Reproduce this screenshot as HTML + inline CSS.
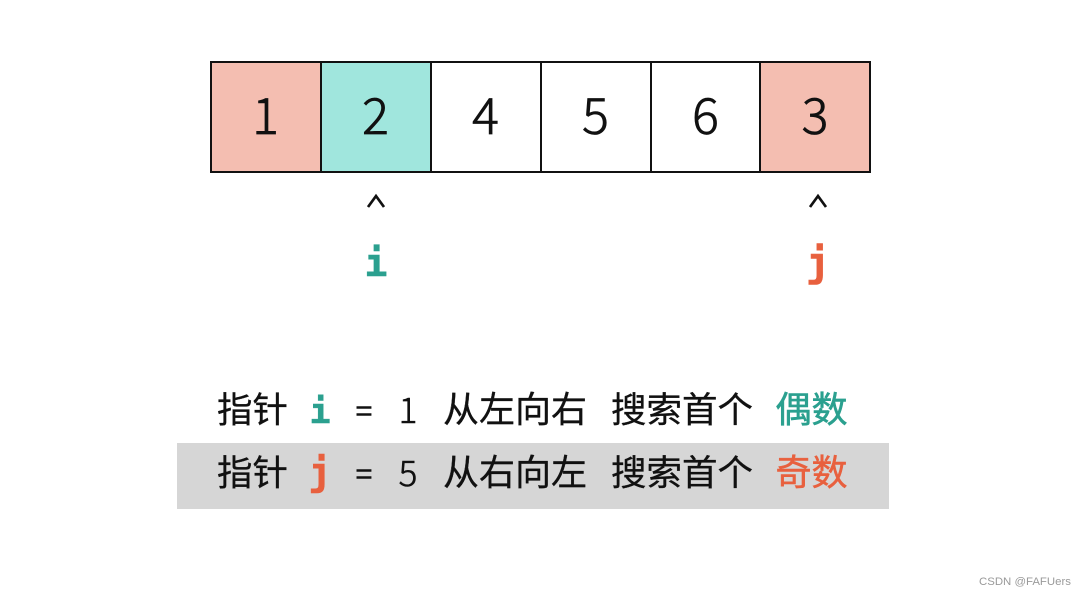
<!DOCTYPE html>
<html><head><meta charset="utf-8"><style>
html,body{margin:0;padding:0;background:#fff;width:1087px;height:595px;overflow:hidden}
svg{display:block}
text{font-family:"Noto Sans CJK SC","Liberation Sans",sans-serif;fill:#111}
.d{font-size:50px;text-anchor:middle;font-weight:300;stroke:#111;stroke-width:.8px}
.n{font-size:35px;text-anchor:middle;font-weight:300;stroke:#111;stroke-width:.6px}
.c{font-size:35.5px;stroke:#111;stroke-width:.3px}
.w{font-size:36px;stroke:#111;stroke-width:.3px}
.t{font-size:36px;stroke:#2ba08f;stroke-width:.6px;fill:#2ba08f}
.o{font-size:36px;stroke:#e8603e;stroke-width:.5px;fill:#e8603e}
.m{font-family:"DejaVu Sans Mono","Liberation Mono",monospace;font-weight:bold;text-anchor:middle}
.e{font-size:30px;text-anchor:middle;stroke:#111;stroke-width:.5px}
</style></head><body>
<svg width="1087" height="595" viewBox="0 0 1087 595" xmlns="http://www.w3.org/2000/svg">
<rect width="1087" height="595" fill="#fff"/>
<rect x="211" y="62" width="110" height="110" fill="#f4beb1"/>
<rect x="321" y="62" width="110" height="110" fill="#a0e6dd"/>
<rect x="760" y="62" width="110" height="110" fill="#f4beb1"/>
<g fill="none" stroke="#111" stroke-width="2">
<rect x="211" y="62" width="659" height="110"/>
<path d="M321 62V172M431 62V172M541 62V172M651 62V172M760 62V172"/>
</g>
<text class="d" x="265.500" y="134">1</text>
<text class="d" x="375.500" y="134">2</text>
<text class="d" x="485.500" y="134">4</text>
<text class="d" x="595.500" y="134">5</text>
<text class="d" x="705.500" y="134">6</text>
<text class="d" x="815" y="134">3</text>
<path d="M368 207L376 196L384 207M810 207L818 196L826 207" fill="none" stroke="#111" stroke-width="2.700"/>
<text class="m" x="376" y="276" font-size="38" style="fill:#2ba08f;stroke:#2ba08f;stroke-width:.5px">i</text>
<text class="m" x="818" y="276" font-size="40" style="fill:#e8603e;stroke:#e8603e;stroke-width:.6px">j</text>

<rect x="177" y="443" width="712" height="66" fill="#d6d6d6"/>

<text class="c" x="217" y="422">指针</text>
<text class="m" x="320" y="423" font-size="35" style="fill:#2ba08f;stroke:#2ba08f;stroke-width:.5px">i</text>
<text class="e" x="364" y="422">=</text>
<text class="n" x="408" y="423">1</text>
<text class="w" x="443" y="422">从左向右</text>
<text class="c" x="611" y="422">搜索首个</text>
<text class="t" x="775.500" y="422">偶数</text>

<text class="c" x="217" y="485">指针</text>
<text class="m" x="320" y="485" font-size="38" style="fill:#e8603e;stroke:#e8603e;stroke-width:.6px">j</text>
<text class="e" x="364" y="485">=</text>
<text class="n" x="408" y="486">5</text>
<text class="w" x="443" y="485">从右向左</text>
<text class="c" x="611" y="485">搜索首个</text>
<text class="o" x="775.500" y="485">奇数</text>

<text x="979" y="585" font-size="11.4" style="font-family:'Liberation Sans',sans-serif;fill:#9a9a9a">CSDN @FAFUers</text>
</svg>
</body></html>
